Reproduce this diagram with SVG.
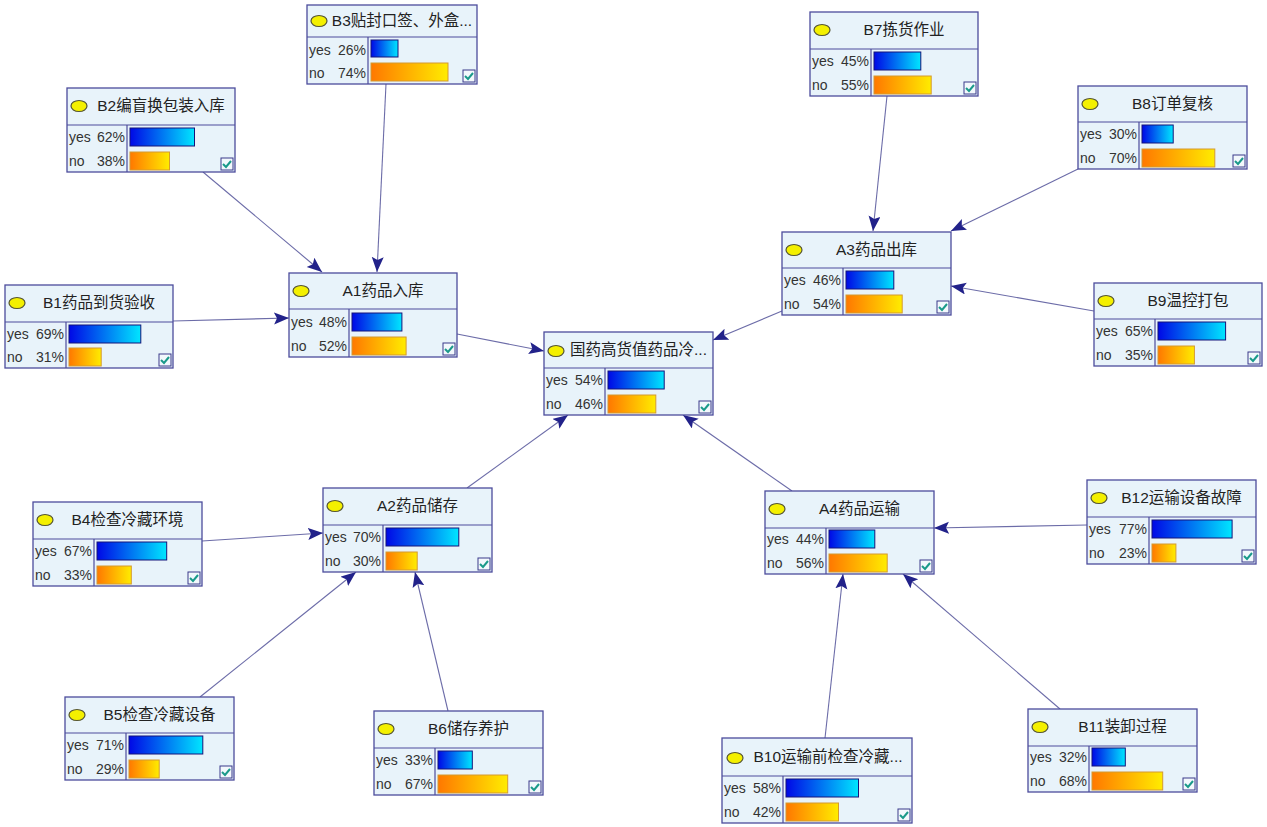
<svg xmlns="http://www.w3.org/2000/svg" width="1267" height="827" viewBox="0 0 1267 827">
<defs>
<linearGradient id="gy" x1="0" y1="0" x2="1" y2="0"><stop offset="0" stop-color="#0008e6"/><stop offset="1" stop-color="#00e6ff"/></linearGradient>
<linearGradient id="gn" x1="0" y1="0" x2="1" y2="0"><stop offset="0" stop-color="#ff7800"/><stop offset="1" stop-color="#ffec00"/></linearGradient>
<marker id="ah" markerUnits="userSpaceOnUse" markerWidth="17" markerHeight="13" refX="15" refY="6" orient="auto"><path d="M0,0 L15,6 L0,12 L3,6 z" fill="#22228a"/></marker>
<style>
.box{fill:#e8f3fa;stroke:#4c4c9c;stroke-width:1.3}
.div{stroke:#4c4c9c;stroke-width:1.2}
.dot{fill:#f4f000;stroke:#555533;stroke-width:1.2}
.title{font-family:"Liberation Sans","Noto Sans CJK SC",sans-serif;font-size:15.5px;fill:#222;text-anchor:middle}
.lbl{font-family:"Liberation Sans","Noto Sans CJK SC",sans-serif;font-size:14px;fill:#333}
.pct{font-family:"Liberation Sans","Noto Sans CJK SC",sans-serif;font-size:14px;fill:#333;text-anchor:end}
.yb{fill:url(#gy);stroke:#14147a;stroke-width:1}
.nb{fill:url(#gn);stroke:#d49a30;stroke-width:1}
.cb{fill:#f2f8fc;stroke:#3a3a8a;stroke-width:1}
.ck{fill:none;stroke:#1a9a8a;stroke-width:2}
.edge{stroke:#6c6ca8;stroke-width:1.1;fill:none;marker-end:url(#ah)}
</style>
</defs>
<rect width="1267" height="827" fill="#ffffff"/>
<g id="connectors">
<line class="edge" x1="203" y1="172" x2="322" y2="272"/>
<line class="edge" x1="386" y1="84" x2="377" y2="272"/>
<line class="edge" x1="173" y1="321" x2="289" y2="318"/>
<line class="edge" x1="457" y1="334" x2="544" y2="351"/>
<line class="edge" x1="887" y1="96" x2="873" y2="231"/>
<line class="edge" x1="1078" y1="169" x2="951" y2="231"/>
<line class="edge" x1="1094" y1="311" x2="951" y2="286"/>
<line class="edge" x1="782" y1="311" x2="713" y2="340"/>
<line class="edge" x1="467" y1="488" x2="568" y2="415"/>
<line class="edge" x1="792" y1="491" x2="683" y2="415"/>
<line class="edge" x1="202" y1="541" x2="323" y2="533"/>
<line class="edge" x1="200" y1="697" x2="356" y2="572"/>
<line class="edge" x1="448" y1="711" x2="415" y2="572"/>
<line class="edge" x1="1087" y1="525" x2="934" y2="528"/>
<line class="edge" x1="825" y1="738" x2="843" y2="574"/>
<line class="edge" x1="1060" y1="709" x2="903" y2="574"/>
</g>

<g id="B3" transform="translate(307,5)">
<rect class="box" width="170" height="79"/><line class="div" x1="0" y1="32" x2="170" y2="32"/><line class="div" x1="61" y1="32" x2="61" y2="79"/>
<ellipse class="dot" cx="12" cy="16" rx="8" ry="5.5"/><text class="title" x="95" y="21">B3贴封口签、外盒...</text>
<text class="lbl" x="2" y="50">yes</text><text class="pct" x="59" y="50">26%</text><rect class="yb" x="64" y="35" width="27" height="17"/>
<text class="lbl" x="2" y="73">no</text><text class="pct" x="59" y="73">74%</text><rect class="nb" x="64" y="58" width="77" height="18"/>
<rect class="cb" x="156" y="65" width="12" height="12"/><path class="ck" d="M158,71 l3,3 l5,-6"/>
</g>

<g id="B2" transform="translate(67,88)">
<rect class="box" width="168" height="84"/><line class="div" x1="0" y1="37" x2="168" y2="37"/><line class="div" x1="60" y1="37" x2="60" y2="84"/>
<ellipse class="dot" cx="12" cy="18" rx="8" ry="5.5"/><text class="title" x="94" y="23">B2编盲换包装入库</text>
<text class="lbl" x="2" y="54">yes</text><text class="pct" x="58" y="54">62%</text><rect class="yb" x="63" y="40" width="64.5" height="18"/>
<text class="lbl" x="2" y="78">no</text><text class="pct" x="58" y="78">38%</text><rect class="nb" x="63" y="64" width="39.5" height="18"/>
<rect class="cb" x="154" y="70" width="12" height="12"/><path class="ck" d="M156,76 l3,3 l5,-6"/>
</g>

<g id="B1" transform="translate(5,285)">
<rect class="box" width="168" height="83"/><line class="div" x1="0" y1="37" x2="168" y2="37"/><line class="div" x1="61" y1="37" x2="61" y2="83"/>
<ellipse class="dot" cx="12" cy="18" rx="8" ry="5.5"/><text class="title" x="94" y="23">B1药品到货验收</text>
<text class="lbl" x="2" y="54">yes</text><text class="pct" x="59" y="54">69%</text><rect class="yb" x="64" y="40" width="71.8" height="18"/>
<text class="lbl" x="2" y="77">no</text><text class="pct" x="59" y="77">31%</text><rect class="nb" x="64" y="63" width="32.2" height="18"/>
<rect class="cb" x="154" y="69" width="12" height="12"/><path class="ck" d="M156,75 l3,3 l5,-6"/>
</g>

<g id="A1" transform="translate(289,273)">
<rect class="box" width="168" height="84"/><line class="div" x1="0" y1="36" x2="168" y2="36"/><line class="div" x1="60" y1="36" x2="60" y2="84"/>
<ellipse class="dot" cx="12" cy="18" rx="8" ry="5.5"/><text class="title" x="94" y="23">A1药品入库</text>
<text class="lbl" x="2" y="54">yes</text><text class="pct" x="58" y="54">48%</text><rect class="yb" x="63" y="40" width="49.9" height="18"/>
<text class="lbl" x="2" y="78">no</text><text class="pct" x="58" y="78">52%</text><rect class="nb" x="63" y="64" width="54.1" height="18"/>
<rect class="cb" x="154" y="70" width="12" height="12"/><path class="ck" d="M156,76 l3,3 l5,-6"/>
</g>

<g id="B7" transform="translate(810,12)">
<rect class="box" width="168" height="84"/><line class="div" x1="0" y1="37" x2="168" y2="37"/><line class="div" x1="61" y1="37" x2="61" y2="84"/>
<ellipse class="dot" cx="12" cy="18" rx="8" ry="5.5"/><text class="title" x="94" y="23">B7拣货作业</text>
<text class="lbl" x="2" y="54">yes</text><text class="pct" x="59" y="54">45%</text><rect class="yb" x="64" y="40" width="46.8" height="18"/>
<text class="lbl" x="2" y="78">no</text><text class="pct" x="59" y="78">55%</text><rect class="nb" x="64" y="64" width="57.2" height="18"/>
<rect class="cb" x="154" y="70" width="12" height="12"/><path class="ck" d="M156,76 l3,3 l5,-6"/>
</g>

<g id="B8" transform="translate(1078,86)">
<rect class="box" width="169" height="83"/><line class="div" x1="0" y1="36" x2="169" y2="36"/><line class="div" x1="61" y1="36" x2="61" y2="83"/>
<ellipse class="dot" cx="12" cy="18" rx="8" ry="5.5"/><text class="title" x="94.5" y="23">B8订单复核</text>
<text class="lbl" x="2" y="53">yes</text><text class="pct" x="59" y="53">30%</text><rect class="yb" x="64" y="39" width="31.2" height="18"/>
<text class="lbl" x="2" y="77">no</text><text class="pct" x="59" y="77">70%</text><rect class="nb" x="64" y="63" width="72.8" height="18"/>
<rect class="cb" x="155" y="69" width="12" height="12"/><path class="ck" d="M157,75 l3,3 l5,-6"/>
</g>

<g id="A3" transform="translate(782,232)">
<rect class="box" width="169" height="83"/><line class="div" x1="0" y1="36" x2="169" y2="36"/><line class="div" x1="61" y1="36" x2="61" y2="83"/>
<ellipse class="dot" cx="12" cy="18" rx="8" ry="5.5"/><text class="title" x="94.5" y="23">A3药品出库</text>
<text class="lbl" x="2" y="53">yes</text><text class="pct" x="59" y="53">46%</text><rect class="yb" x="64" y="39" width="47.8" height="18"/>
<text class="lbl" x="2" y="77">no</text><text class="pct" x="59" y="77">54%</text><rect class="nb" x="64" y="63" width="56.2" height="18"/>
<rect class="cb" x="155" y="69" width="12" height="12"/><path class="ck" d="M157,75 l3,3 l5,-6"/>
</g>

<g id="B9" transform="translate(1094,283)">
<rect class="box" width="168" height="83"/><line class="div" x1="0" y1="36" x2="168" y2="36"/><line class="div" x1="61" y1="36" x2="61" y2="83"/>
<ellipse class="dot" cx="12" cy="18" rx="8" ry="5.5"/><text class="title" x="94" y="23">B9温控打包</text>
<text class="lbl" x="2" y="53">yes</text><text class="pct" x="59" y="53">65%</text><rect class="yb" x="64" y="39" width="67.6" height="18"/>
<text class="lbl" x="2" y="77">no</text><text class="pct" x="59" y="77">35%</text><rect class="nb" x="64" y="63" width="36.4" height="18"/>
<rect class="cb" x="154" y="69" width="12" height="12"/><path class="ck" d="M156,75 l3,3 l5,-6"/>
</g>

<g id="C" transform="translate(544,332)">
<rect class="box" width="169" height="83"/><line class="div" x1="0" y1="36" x2="169" y2="36"/><line class="div" x1="61" y1="36" x2="61" y2="83"/>
<ellipse class="dot" cx="12" cy="19" rx="8" ry="5.5"/><text class="title" x="94.5" y="23">国药高货值药品冷...</text>
<text class="lbl" x="2" y="53">yes</text><text class="pct" x="59" y="53">54%</text><rect class="yb" x="64" y="39" width="56.2" height="18"/>
<text class="lbl" x="2" y="77">no</text><text class="pct" x="59" y="77">46%</text><rect class="nb" x="64" y="63" width="47.8" height="18"/>
<rect class="cb" x="155" y="69" width="12" height="12"/><path class="ck" d="M157,75 l3,3 l5,-6"/>
</g>

<g id="B4" transform="translate(33,502)">
<rect class="box" width="169" height="84"/><line class="div" x1="0" y1="37" x2="169" y2="37"/><line class="div" x1="61" y1="37" x2="61" y2="84"/>
<ellipse class="dot" cx="12" cy="18" rx="8" ry="5.5"/><text class="title" x="94.5" y="23">B4检查冷藏环境</text>
<text class="lbl" x="2" y="54">yes</text><text class="pct" x="59" y="54">67%</text><rect class="yb" x="64" y="40" width="69.7" height="18"/>
<text class="lbl" x="2" y="78">no</text><text class="pct" x="59" y="78">33%</text><rect class="nb" x="64" y="64" width="34.3" height="18"/>
<rect class="cb" x="155" y="70" width="12" height="12"/><path class="ck" d="M157,76 l3,3 l5,-6"/>
</g>

<g id="A2" transform="translate(323,488)">
<rect class="box" width="169" height="84"/><line class="div" x1="0" y1="37" x2="169" y2="37"/><line class="div" x1="60" y1="37" x2="60" y2="84"/>
<ellipse class="dot" cx="12" cy="18" rx="8" ry="5.5"/><text class="title" x="94.5" y="23">A2药品储存</text>
<text class="lbl" x="2" y="54">yes</text><text class="pct" x="58" y="54">70%</text><rect class="yb" x="63" y="40" width="72.8" height="18"/>
<text class="lbl" x="2" y="78">no</text><text class="pct" x="58" y="78">30%</text><rect class="nb" x="63" y="64" width="31.2" height="18"/>
<rect class="cb" x="155" y="70" width="12" height="12"/><path class="ck" d="M157,76 l3,3 l5,-6"/>
</g>

<g id="A4" transform="translate(765,491)">
<rect class="box" width="169" height="83"/><line class="div" x1="0" y1="37" x2="169" y2="37"/><line class="div" x1="61" y1="37" x2="61" y2="83"/>
<ellipse class="dot" cx="12" cy="18" rx="8" ry="5.5"/><text class="title" x="94.5" y="23">A4药品运输</text>
<text class="lbl" x="2" y="53">yes</text><text class="pct" x="59" y="53">44%</text><rect class="yb" x="64" y="39" width="45.8" height="18"/>
<text class="lbl" x="2" y="77">no</text><text class="pct" x="59" y="77">56%</text><rect class="nb" x="64" y="63" width="58.2" height="18"/>
<rect class="cb" x="155" y="69" width="12" height="12"/><path class="ck" d="M157,75 l3,3 l5,-6"/>
</g>

<g id="B12" transform="translate(1087,480)">
<rect class="box" width="169" height="84"/><line class="div" x1="0" y1="37" x2="169" y2="37"/><line class="div" x1="62" y1="37" x2="62" y2="84"/>
<ellipse class="dot" cx="12" cy="18" rx="8" ry="5.5"/><text class="title" x="94.5" y="23">B12运输设备故障</text>
<text class="lbl" x="2" y="54">yes</text><text class="pct" x="60" y="54">77%</text><rect class="yb" x="65" y="40" width="80.1" height="18"/>
<text class="lbl" x="2" y="78">no</text><text class="pct" x="60" y="78">23%</text><rect class="nb" x="65" y="64" width="23.9" height="18"/>
<rect class="cb" x="155" y="70" width="12" height="12"/><path class="ck" d="M157,76 l3,3 l5,-6"/>
</g>

<g id="B5" transform="translate(65,697)">
<rect class="box" width="169" height="83"/><line class="div" x1="0" y1="36" x2="169" y2="36"/><line class="div" x1="61" y1="36" x2="61" y2="83"/>
<ellipse class="dot" cx="12" cy="18" rx="8" ry="5.5"/><text class="title" x="94.5" y="23">B5检查冷藏设备</text>
<text class="lbl" x="2" y="53">yes</text><text class="pct" x="59" y="53">71%</text><rect class="yb" x="64" y="39" width="73.8" height="18"/>
<text class="lbl" x="2" y="77">no</text><text class="pct" x="59" y="77">29%</text><rect class="nb" x="64" y="63" width="30.2" height="18"/>
<rect class="cb" x="155" y="69" width="12" height="12"/><path class="ck" d="M157,75 l3,3 l5,-6"/>
</g>

<g id="B6" transform="translate(374,711)">
<rect class="box" width="169" height="84"/><line class="div" x1="0" y1="37" x2="169" y2="37"/><line class="div" x1="61" y1="37" x2="61" y2="84"/>
<ellipse class="dot" cx="12" cy="18" rx="8" ry="5.5"/><text class="title" x="94.5" y="23">B6储存养护</text>
<text class="lbl" x="2" y="54">yes</text><text class="pct" x="59" y="54">33%</text><rect class="yb" x="64" y="40" width="34.3" height="18"/>
<text class="lbl" x="2" y="78">no</text><text class="pct" x="59" y="78">67%</text><rect class="nb" x="64" y="64" width="69.7" height="18"/>
<rect class="cb" x="155" y="70" width="12" height="12"/><path class="ck" d="M157,76 l3,3 l5,-6"/>
</g>

<g id="B10" transform="translate(722,738)">
<rect class="box" width="190" height="85"/><line class="div" x1="0" y1="38" x2="190" y2="38"/><line class="div" x1="61" y1="38" x2="61" y2="85"/>
<ellipse class="dot" cx="13" cy="20" rx="8" ry="5.5"/><text class="title" x="106" y="24">B10运输前检查冷藏...</text>
<text class="lbl" x="2" y="55">yes</text><text class="pct" x="59" y="55">58%</text><rect class="yb" x="64" y="41" width="72.5" height="18"/>
<text class="lbl" x="2" y="79">no</text><text class="pct" x="59" y="79">42%</text><rect class="nb" x="64" y="65" width="52.5" height="18"/>
<rect class="cb" x="176" y="71" width="12" height="12"/><path class="ck" d="M178,77 l3,3 l5,-6"/>
</g>

<g id="B11" transform="translate(1028,709)">
<rect class="box" width="169" height="83"/><line class="div" x1="0" y1="37" x2="169" y2="37"/><line class="div" x1="61" y1="37" x2="61" y2="83"/>
<ellipse class="dot" cx="12" cy="18" rx="8" ry="5.5"/><text class="title" x="94.5" y="23">B11装卸过程</text>
<text class="lbl" x="2" y="53">yes</text><text class="pct" x="59" y="53">32%</text><rect class="yb" x="64" y="39" width="33.3" height="18"/>
<text class="lbl" x="2" y="77">no</text><text class="pct" x="59" y="77">68%</text><rect class="nb" x="64" y="63" width="70.7" height="18"/>
<rect class="cb" x="155" y="69" width="12" height="12"/><path class="ck" d="M157,75 l3,3 l5,-6"/>
</g>
</svg>
